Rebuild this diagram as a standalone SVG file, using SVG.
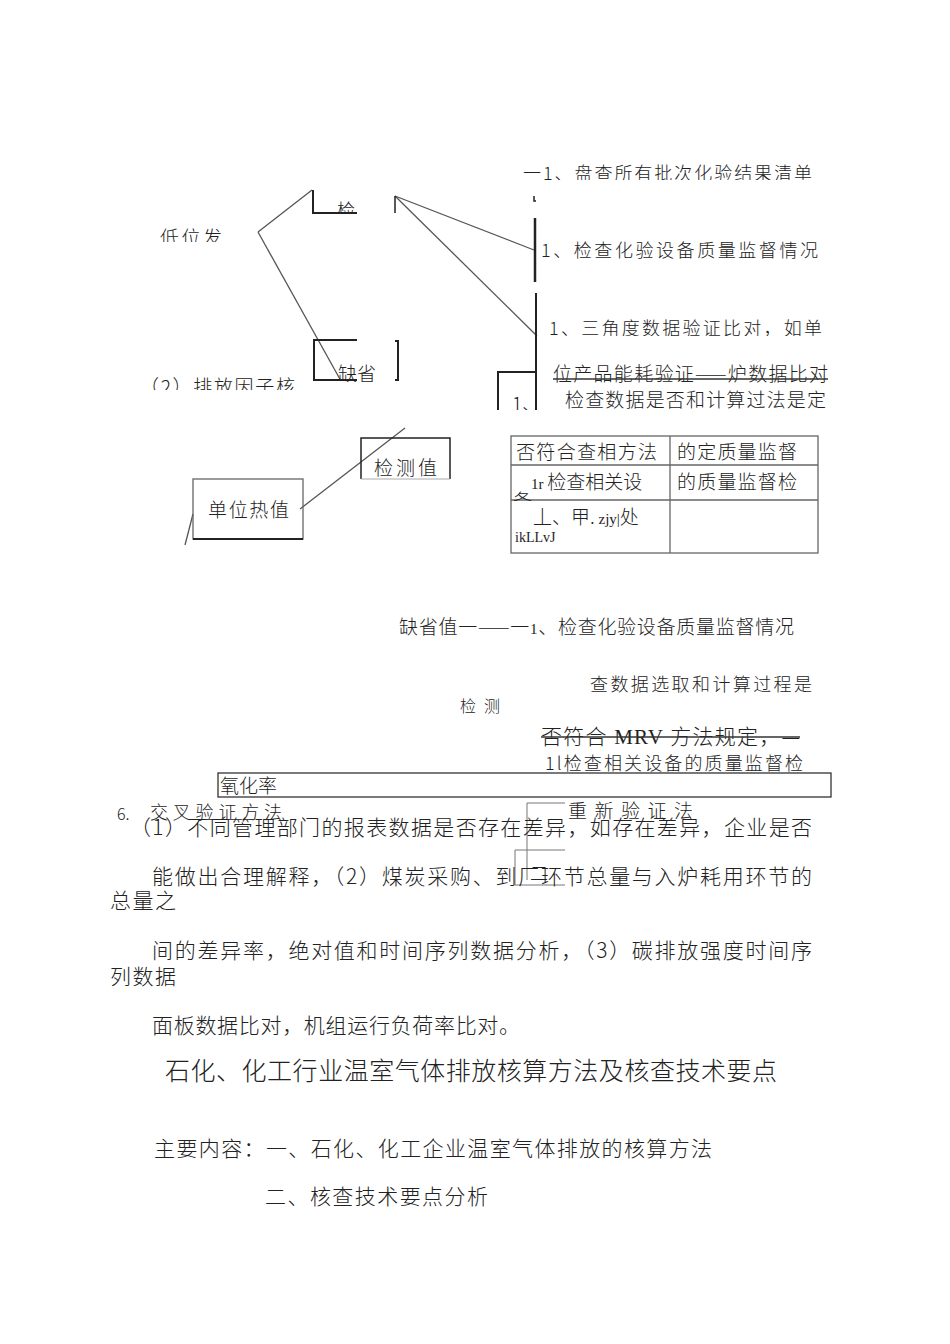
<svg xmlns="http://www.w3.org/2000/svg" width="950" height="1344" viewBox="0 0 950 1344">
<style>
text{font-family:"Noto Sans CJK SC","Liberation Serif",serif;fill:#222;font-weight:300}
.s{font-size:18px}
.m{font-size:19px}
.p{font-size:21px}
.ln{stroke:#555;stroke-width:1.3;fill:none}
.bx{stroke:#222;stroke-width:2;fill:none}
.tb{stroke:#666;stroke-width:1.3;fill:none}
.lat{font-family:"Liberation Serif",serif}
</style>
<defs>
<clipPath id="cTop"><rect x="500" y="150" width="340" height="30"/></clipPath>
<clipPath id="cLeft"><rect x="100" y="200" width="200" height="42"/></clipPath>
<clipPath id="cPai"><rect x="100" y="360" width="210" height="30"/></clipPath>
<clipPath id="cJian"><rect x="300" y="190" width="60" height="24"/></clipPath>
<clipPath id="cQue"><rect x="320" y="340" width="60" height="42"/></clipPath>
<clipPath id="cR1"><rect x="540" y="300" width="300" height="36"/></clipPath>
<clipPath id="cR2"><rect x="540" y="360" width="300" height="50"/></clipPath>
<clipPath id="cB1"><rect x="500" y="372" width="36" height="38"/></clipPath>
<clipPath id="cT1"><rect x="511" y="436" width="307" height="33"/></clipPath>
<clipPath id="cT2"><rect x="511" y="465" width="307" height="36"/></clipPath>
</defs>
<rect width="950" height="1344" fill="#fff"/>

<g id="connectors">
<line class="ln" x1="258" y1="232" x2="312" y2="190"/>
<line class="ln" x1="258" y1="232" x2="341" y2="381"/>
<line class="ln" x1="395" y1="196" x2="534" y2="250"/>
<line class="ln" x1="395" y1="196" x2="537" y2="336"/>
<line class="ln" x1="300" y1="509" x2="405" y2="428"/>
<line class="ln" x1="193" y1="514" x2="185" y2="545"/>
</g>

<g id="n-top">
<text class="s" x="523" y="180" clip-path="url(#cTop)" textLength="289">一1、盘查所有批次化验结果清单</text>
<path d="M534 196 v5 h2" stroke="#222" stroke-width="1.5" fill="none"/>
</g>

<g id="n-check1">
<line x1="535" y1="218" x2="535" y2="282" stroke="#222" stroke-width="2.5"/>
<text class="s" x="541" y="257" textLength="277">1、检查化验设备质量监督情况</text>
</g>

<g id="n-check2">
<line x1="536" y1="293" x2="536" y2="410" stroke="#222" stroke-width="2"/>
<text class="s" x="549" y="335" clip-path="url(#cR1)" textLength="273">1、三角度数据验证比对，如单</text>
<g clip-path="url(#cR2)">
<text class="m" x="553" y="381" textLength="275">位产品能耗验证——炉数据比对</text>
<text class="m" x="565" y="407" textLength="261">检查数据是否和计算过法是定</text>
</g>
<line x1="553" y1="379" x2="828" y2="379" stroke="#333" stroke-width="1.3"/>
</g>

<g id="n-box1">
<path d="M498 410 V372 H536" stroke="#222" stroke-width="2" fill="none"/>
<text class="m" x="512" y="411" clip-path="url(#cB1)">1、</text>
</g>

<g id="n-left">
<text class="m" x="160" y="245" clip-path="url(#cLeft)" textLength="62">低位发</text>
</g>

<g id="n-jian">
<path d="M313 190 V213 H357" class="bx"/>
<line x1="395" y1="196" x2="395" y2="213" stroke="#222" stroke-width="1.5"/>
<text class="s" x="337" y="217" clip-path="url(#cJian)">检</text>
</g>

<g id="n-que">
<path d="M357 340 H314 V380 H357" class="bx"/>
<path d="M395 341 H398 V380 H395" class="bx"/>
<text class="m" x="338" y="381" clip-path="url(#cQue)">缺省</text>
</g>

<g id="n-pai">
<text class="m" x="140" y="394" clip-path="url(#cPai)" textLength="155">（2）排放因子核</text>
</g>

<g id="n-jiance">
<path d="M361 479 V438 H450 V479" stroke="#222" stroke-width="1.5" fill="none"/>
<line x1="361" y1="479" x2="450" y2="479" stroke="#aaa" stroke-width="1"/>
<text class="m" x="374" y="475" textLength="63">检测值</text>
</g>

<g id="n-rezhi">
<rect x="193" y="479" width="110" height="60" stroke="#666" stroke-width="1.3" fill="none"/>
<line x1="193" y1="539" x2="303" y2="539" stroke="#222" stroke-width="2"/>
<text class="m" x="208" y="517" textLength="81">单位热值</text>
</g>

<g id="n-table">
<rect class="tb" x="511" y="436" width="307" height="117"/>
<line class="tb" x1="670" y1="436" x2="670" y2="553"/>
<line class="tb" x1="511" y1="465" x2="818" y2="465"/>
<line class="tb" x1="511" y1="500" x2="818" y2="500"/>
<g clip-path="url(#cT1)">
<text class="m" x="516" y="459" textLength="141">否符合查相方法</text>
<text class="m" x="677" y="459" textLength="120">的定质量监督</text>
</g>
<g clip-path="url(#cT2)">
<text class="m" x="531" y="489"><tspan class="lat" font-size="15">1r </tspan>检查相关设</text>
<text class="m" x="677" y="489" textLength="120">的质量监督检</text>
<text class="m" x="513" y="508">备</text>
</g>
<text class="m" x="533" y="524">丄、甲.<tspan class="lat" font-size="15"> zjy|</tspan>处</text>
<text class="lat" x="515" y="542" style="font-size:14px">ikLLvJ</text>
</g>

<g id="n-quesheng">
<text class="m" x="399" y="634" textLength="395">缺省值一——一<tspan class="lat" font-size="15">1</tspan>、检查化验设备质量监督情况</text>
</g>

<g id="n-jiance2">
<text class="s" x="590" y="691" textLength="222">查数据选取和计算过程是</text>
<text x="460" y="712" style="font-size:16px" textLength="40">检测</text>
<text class="p" x="541" y="744" textLength="259">否符合<tspan class="lat"> MRV </tspan>方法规定，—</text>
<line x1="541" y1="737" x2="800" y2="737" stroke="#333" stroke-width="1.3"/>
<text class="s" x="545" y="770" textLength="258">1l检查相关设备的质量监督检</text>
</g>

<g id="n-yanghua">
<rect x="218" y="773" width="613" height="24" stroke="#333" stroke-width="1.3" fill="none"/>
<text class="m" x="220" y="793">氧化率</text>
</g>

<g id="n-cross">
<text x="117" y="820" style="font-size:16px">6.</text>
<text x="150" y="819" style="font-size:18px" textLength="132">交叉验证方法</text>
<text class="m" x="568" y="818" textLength="125">重新验证法</text>
<path d="M565 803 H527 V880" stroke="#777" stroke-width="1" fill="none"/>
<path d="M565 850 H515 V885 H565" stroke="#777" stroke-width="1" fill="none"/>
<text class="s" x="530" y="880" fill="#555">二</text>
</g>

<g id="n-para">
<text class="p" x="130" y="835" textLength="682">（1）不同管理部门的报表数据是否存在差异，如存在差异，企业是否</text>
<text class="p" x="152" y="884" textLength="660">能做出合理解释，（2）煤炭采购、到厂环节总量与入炉耗用环节的</text>
<text class="p" x="110" y="908" textLength="66">总量之</text>
<text class="p" x="152" y="958" textLength="660">间的差异率，绝对值和时间序列数据分析，（3）碳排放强度时间序</text>
<text class="p" x="110" y="984" textLength="66">列数据</text>
<text class="p" x="152" y="1033" textLength="368">面板数据比对，机组运行负荷率比对。</text>
</g>

<g id="n-title">
<text x="165" y="1080" style="font-size:25px" textLength="612">石化、化工行业温室气体排放核算方法及核查技术要点</text>
<text class="p" x="154" y="1156" textLength="558">主要内容：一、石化、化工企业温室气体排放的核算方法</text>
<text class="p" x="265" y="1204" textLength="223">二、核查技术要点分析</text>
</g>
</svg>
